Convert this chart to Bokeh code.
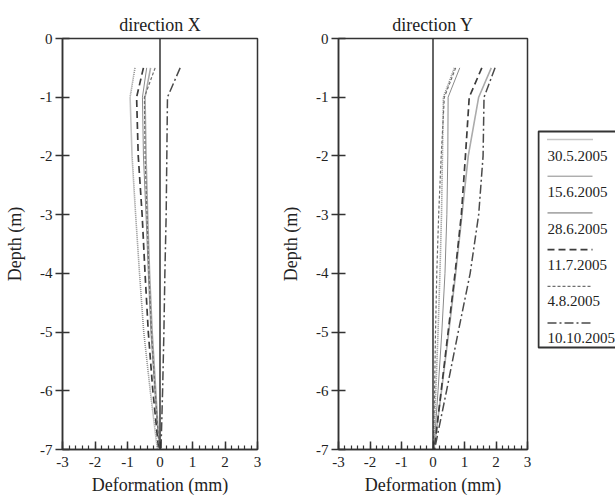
from bokeh.plotting import figure
from bokeh.models import Range1d, FixedTicker, Span
from bokeh.layouts import row
from bokeh.embed import file_html
from bokeh.resources import INLINE
from bokeh.core.properties import value

# ---- data ----
depth = [-0.5, -1, -2, -3, -4, -5, -6, -7]
dates = ["30.5.2005", "15.6.2005", "28.6.2005", "11.7.2005", "4.8.2005", "10.10.2005"]

# direction X (mm)
x_30_5 = [-0.77, -0.92, -0.86, -0.75, -0.63, -0.50, -0.30, -0.08]
x_15_6 = [-0.41, -0.54, -0.51, -0.43, -0.36, -0.28, -0.16, -0.02]
x_28_6 = [-0.29, -0.46, -0.43, -0.38, -0.32, -0.24, -0.13, -0.02]
x_11_7 = [-0.51, -0.72, -0.67, -0.55, -0.46, -0.36, -0.22, -0.04]
x_4_8 = [-0.15, -0.48, -0.46, -0.40, -0.34, -0.26, -0.15, -0.02]
x_10_10 = [0.62, 0.23, 0.21, 0.19, 0.15, 0.12, 0.08, 0.03]

# direction Y (mm)
y_30_5 = [0.68, 0.33, 0.30, 0.27, 0.22, 0.16, 0.09, 0.02]
y_15_6 = [0.85, 0.48, 0.47, 0.44, 0.38, 0.28, 0.16, 0.03]
y_28_6 = [1.85, 1.45, 1.12, 0.92, 0.72, 0.50, 0.27, 0.03]
y_11_7 = [1.55, 1.15, 1.03, 0.90, 0.70, 0.48, 0.26, 0.04]
y_4_8 = [0.72, 0.36, 0.26, 0.18, 0.12, 0.08, 0.05, 0.01]
y_10_10 = [1.97, 1.62, 1.59, 1.45, 1.18, 0.80, 0.43, 0.05]

x_series = [x_30_5, x_15_6, x_28_6, x_11_7, x_4_8, x_10_10]
y_series = [y_30_5, y_15_6, y_28_6, y_11_7, y_4_8, y_10_10]

x_ticks = [-3, -2, -1, 0, 1, 2, 3]
y_ticks = [0, -1, -2, -3, -4, -5, -6, -7]

# ---- styles ----
colors = ["#8c8c8c", "#8a8a8a", "#ababab", "#3c3c3c", "#6e6e6e", "#4a4a4a"]
dashes = ["1 1", "solid", "solid", "7 4", "3 2", "9 3 2 3"]
widths = [1.6, 1.0, 1.6, 1.7, 1.2, 1.5]

SERIF = "Liberation Serif"
AX = "#333333"
TOP, FRAME_H, BOTTOM = 38, 411, 51


def make_panel(title, series, left_border, right_border, width):
    p = figure(width=width, height=TOP + FRAME_H + BOTTOM,
               min_border_left=left_border, min_border_right=right_border,
               min_border_top=TOP, min_border_bottom=BOTTOM,
               x_range=Range1d(-3, 3), y_range=Range1d(-7, 0),
               output_backend="svg", toolbar_location=None, title=title)
    p.title.align = "center"
    p.title.text_font = SERIF
    p.title.text_font_size = "18px"
    p.title.text_font_style = "normal"
    p.title.text_color = "#222222"
    p.title.standoff = 8
    p.grid.visible = False
    p.outline_line_color = AX
    p.outline_line_width = 1.5
    p.background_fill_color = "white"
    p.border_fill_color = "white"

    p.xaxis.ticker = FixedTicker(ticks=x_ticks,
                                 minor_ticks=[t / 5 for t in range(-15, 16)])
    p.yaxis.ticker = FixedTicker(ticks=y_ticks)
    p.xaxis.major_label_overrides = {t: str(t) for t in x_ticks}
    p.yaxis.major_label_overrides = {t: str(t) for t in y_ticks}
    for ax in (p.xaxis[0], p.yaxis[0]):
        ax.axis_line_color = AX
        ax.axis_line_width = 1.5
        ax.major_tick_line_color = AX
        ax.major_tick_line_width = 1.5
        ax.minor_tick_line_color = AX
        ax.minor_tick_line_width = 1.2
        ax.major_label_text_font = SERIF
        ax.major_label_text_font_size = "15px"
        ax.major_label_text_color = "#222222"
        ax.axis_label_text_font = SERIF
        ax.axis_label_text_font_size = "18px"
        ax.axis_label_text_font_style = "normal"
        ax.axis_label_text_color = "#222222"
    p.xaxis.major_tick_in = 8
    p.xaxis.major_tick_out = 0
    p.xaxis.minor_tick_in = 4
    p.xaxis.minor_tick_out = 0
    p.xaxis.major_label_standoff = 7
    p.xaxis.axis_label_standoff = 5
    p.xaxis.axis_label = "Deformation (mm)"
    p.yaxis.major_tick_in = 7
    p.yaxis.major_tick_out = 7
    p.yaxis.minor_tick_in = 0
    p.yaxis.minor_tick_out = 0
    p.yaxis.major_label_standoff = 3
    p.yaxis.axis_label_standoff = 12
    p.yaxis.axis_label = "Depth (m)"

    p.add_layout(Span(location=0, dimension="height", line_color=AX, line_width=1.5))

    for xs, c, d, w in zip(series, colors, dashes, widths):
        p.line(xs, depth, line_color=c, line_dash=d, line_width=w)
    return p


p1 = make_panel("direction X", x_series, 62, 21, 278)
p2 = make_panel("direction Y", y_series, 54, 10, 259)

# ---- legend panel (samples above labels), same frame as the plots ----
n = len(dates)
leg = figure(width=78, height=TOP + FRAME_H + BOTTOM, min_border_left=0,
             min_border_right=0, min_border_top=TOP, min_border_bottom=BOTTOM,
             x_range=Range1d(0, 78), y_range=Range1d(FRAME_H, 0),
             output_backend="svg", toolbar_location=None)
leg.axis.visible = False
leg.grid.visible = False
leg.outline_line_color = None
leg.border_fill_color = "white"
box_top, box_bottom = 93, 309
leg.quad(left=[1], right=[90], top=[box_top], bottom=[box_bottom],
         fill_color=None, line_color=AX, line_width=2)
line_y = [box_top + 8 + 36.7 * i for i in range(n)]
text_y = [box_top + 24.5 + 36.3 * i for i in range(n)]
for i in range(n):
    leg.line([10, 55], [line_y[i], line_y[i]], line_color=colors[i],
             line_dash=dashes[i], line_width=widths[i])
leg.text(x=[10] * n, y=text_y, text=dates, text_font=value(SERIF),
         text_font_size="15px", text_color="#222222", text_baseline="middle",
         text_align="left")

layout = row(p1, p2, leg)
open("out.html", "w").write(file_html(layout, INLINE))
